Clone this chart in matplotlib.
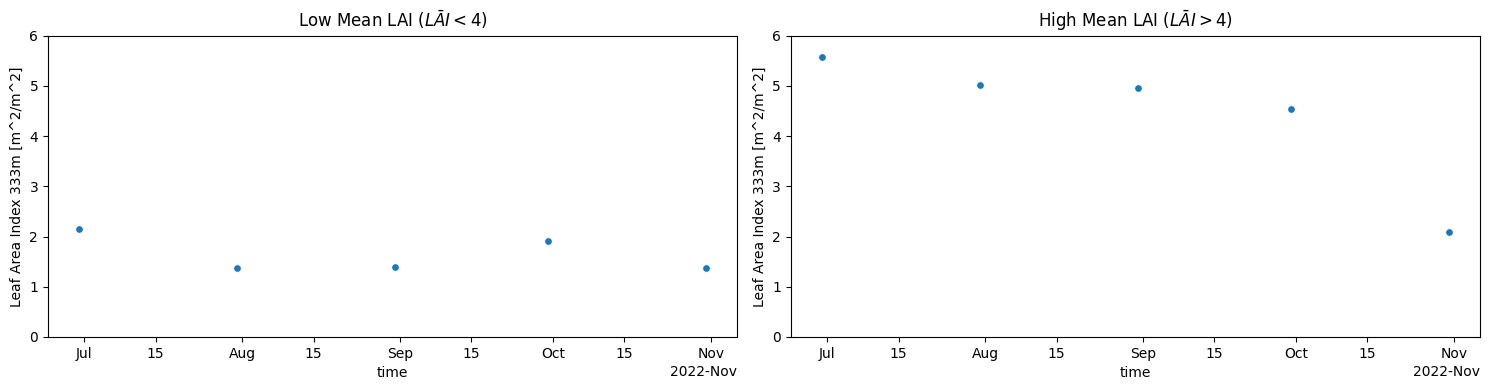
import numpy as np
import pandas as pd
import matplotlib
matplotlib.use("Agg")
import matplotlib.pyplot as plt
import matplotlib.dates as mdates

# fechas de los compuestos LAI (fin de mes)
dates = pd.to_datetime(["2022-06-30", "2022-07-31", "2022-08-31",
                        "2022-09-30", "2022-10-31"])
lai_low = [2.15, 1.37, 1.39, 1.91, 1.37]
lai_high = [5.58, 5.02, 4.96, 4.54, 2.09]

titles = [r"Low Mean LAI ($\bar{LAI} < 4$)", r"High Mean LAI ($\bar{LAI} > 4$)"]
ylabel = "Leaf Area Index 333m [m^2/m^2]"

fig, axes = plt.subplots(1, 2, figsize=(14.89, 3.9), dpi=100)
for ax, vals, title in zip(axes, [lai_low, lai_high], titles):
    ax.scatter(dates, vals, s=28, color="#1f77b4", edgecolors="white",
               linewidths=0.4)
    ax.set_ylim(0, 6)
    ax.set_title(title)
    ax.set_xlabel("time")
    ax.set_ylabel(ylabel)
    locator = mdates.AutoDateLocator()
    ax.xaxis.set_major_locator(locator)
    ax.xaxis.set_major_formatter(mdates.ConciseDateFormatter(locator))

fig.subplots_adjust(left=0.0322, right=0.994, top=0.9085, bottom=0.136,
                    wspace=0.078)
fig.savefig("out.png", dpi=100)
